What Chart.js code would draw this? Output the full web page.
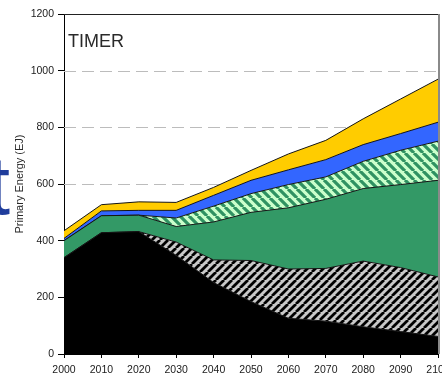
<!DOCTYPE html>
<html>
<head>
<meta charset="utf-8">
<script src="https://cdn.jsdelivr.net/npm/chart.js@4/dist/chart.umd.min.js"></script>
<style>
  html, body { margin: 0; padding: 0; background: #fff; overflow: hidden; width: 442px; height: 378px; }
  #wrap { position: absolute; left: 0; top: 0; width: 470px; height: 378px; }
  #slideLetter { position: absolute; left: -13px; top: 144px; font: 83px "Liberation Sans", Arial, sans-serif; line-height: 1; color: #1f3d9c; }
  #model { position: absolute; left: 68px; top: 32px; font: 18px "Liberation Sans", Arial, sans-serif; line-height: 1; color: #2a2a2a; }
</style>
</head>
<body>
<div id="wrap"><canvas id="chart"></canvas></div>
<div id="slideLetter">t</div>
<div id="model">TIMER</div>
<script>
// Decades on the horizontal axis
const years = ['2000', '2010', '2020', '2030', '2040', '2050', '2060', '2070', '2080', '2090', '2100'];

// Primary energy by source (EJ), stacked from the bottom up
const fossil      = [340, 428, 432, 348, 252, 185, 126, 116,  96,  79,  62];
const fossilCcs   = [  0,   0,   0,  47,  80, 145, 174, 186, 232, 226, 210];
const biomass     = [ 60,  60,  58,  55, 134, 170, 216, 244, 256, 293, 341];
const biomassCcs  = [  0,   0,   0,  30,  56,  66,  82,  79,  96, 121, 138];
const nuclear     = [  8,  17,  17,  27,  38,  47,  52,  61,  59,  59,  67];
const renewables  = [ 27,  22,  30,  28,  28,  35,  56,  68,  91, 122, 152];

// Value axis ticks
const yTicks = [0, 200, 400, 600, 800, 1000, 1200];

function hatch(bg, fg, size, width, rising) {
  const c = document.createElement('canvas');
  c.width = c.height = size;
  const g = c.getContext('2d');
  g.fillStyle = bg;
  g.fillRect(0, 0, size, size);
  g.strokeStyle = fg;
  g.lineWidth = width;
  g.beginPath();
  for (let k = -1; k <= 1; k++) {
    if (rising) { g.moveTo(k * size, size); g.lineTo(k * size + size, 0); }
    else        { g.moveTo(k * size, 0);    g.lineTo(k * size + size, size); }
  }
  g.stroke();
  return g.createPattern(c, 'repeat');
}

const grayHatch  = hatch('#c8c8c8', '#000000', 8, 2.8, true);
const greenHatch = hatch('#ccffcc', '#2f9262', 9, 3.2, false);

const series = [
  { data: fossil,     fill: 'origin', backgroundColor: '#000000' },
  { data: fossilCcs,  fill: '-1',     backgroundColor: grayHatch },
  { data: biomass,    fill: '-1',     backgroundColor: '#339966' },
  { data: biomassCcs, fill: '-1',     backgroundColor: greenHatch },
  { data: nuclear,    fill: '-1',     backgroundColor: '#3366ff' },
  { data: renewables, fill: '-1',     backgroundColor: '#ffcc00' }
];

// Dashed horizontal guides behind the areas, plus the frame on top and right
const framePlugin = {
  id: 'frame',
  beforeDatasetsDraw(chart) {
    const { ctx, chartArea: a, scales: { y } } = chart;
    ctx.save();
    ctx.strokeStyle = '#bcbcbc';
    ctx.lineWidth = 1;
    ctx.setLineDash([12, 6]);
    y.ticks.forEach(t => {
      if (t.value <= 0 || t.value >= 1200) return;
      const py = Math.round(y.getPixelForValue(t.value)) + 0.5;
      ctx.beginPath();
      ctx.moveTo(a.left, py);
      ctx.lineTo(a.right, py);
      ctx.stroke();
    });
    ctx.restore();
  },
  afterDatasetsDraw(chart) {
    const { ctx, chartArea: a } = chart;
    ctx.save();
    ctx.lineWidth = 1;
    ctx.strokeStyle = '#222';
    ctx.beginPath();
    ctx.moveTo(a.left, Math.round(a.top) + 0.5);
    ctx.lineTo(a.right + 2, Math.round(a.top) + 0.5);
    ctx.stroke();
    ctx.strokeStyle = '#8a8a8a';
    ctx.lineWidth = 2;
    ctx.beginPath();
    ctx.moveTo(a.right + 1, a.top);
    ctx.lineTo(a.right + 1, a.bottom);
    ctx.stroke();
    ctx.restore();
  }
};

const tickFont = { family: '"Liberation Sans", Arial, sans-serif', size: 10.5 };

new Chart(document.getElementById('chart'), {
  type: 'line',
  data: {
    labels: years,
    datasets: series.map(s => ({
      data: s.data,
      fill: s.fill,
      backgroundColor: s.backgroundColor,
      borderColor: '#151515',
      borderWidth: 1,
      pointRadius: 0,
      tension: 0
    }))
  },
  options: {
    responsive: true,
    maintainAspectRatio: false,
    animation: false,
    events: [],
    layout: { padding: { top: 14, right: 32, left: 0, bottom: 0 } },
    plugins: { legend: { display: false }, tooltip: { enabled: false } },
    scales: {
      x: {
        offset: false,
        grid: { drawOnChartArea: false, tickLength: 4, tickColor: '#000', tickWidth: 1 },
        border: { color: '#000', width: 1 },
        ticks: { autoSkip: false, maxRotation: 0, padding: 6, color: '#1a1a1a', font: tickFont },
        afterFit: s => { s.height = 24; }
      },
      y: {
        stacked: true,
        min: 0,
        max: 1200,
        afterBuildTicks: s => { s.ticks = yTicks.map(v => ({ value: v })); },
        grid: { drawOnChartArea: false, tickLength: 6, tickColor: '#000', tickWidth: 1 },
        border: { color: '#000', width: 1 },
        ticks: { padding: 4, color: '#1a1a1a', font: tickFont, callback: v => String(v) },
        title: {
          display: true,
          text: 'Primary Energy (EJ)',
          color: '#2a2a2a',
          font: { family: '"Liberation Sans", Arial, sans-serif', size: 11 },
          padding: { top: 13, bottom: 0 }
        },
        afterFit: s => { s.width = 64; }
      }
    }
  },
  plugins: [framePlugin]
});
</script>
</body>
</html>
